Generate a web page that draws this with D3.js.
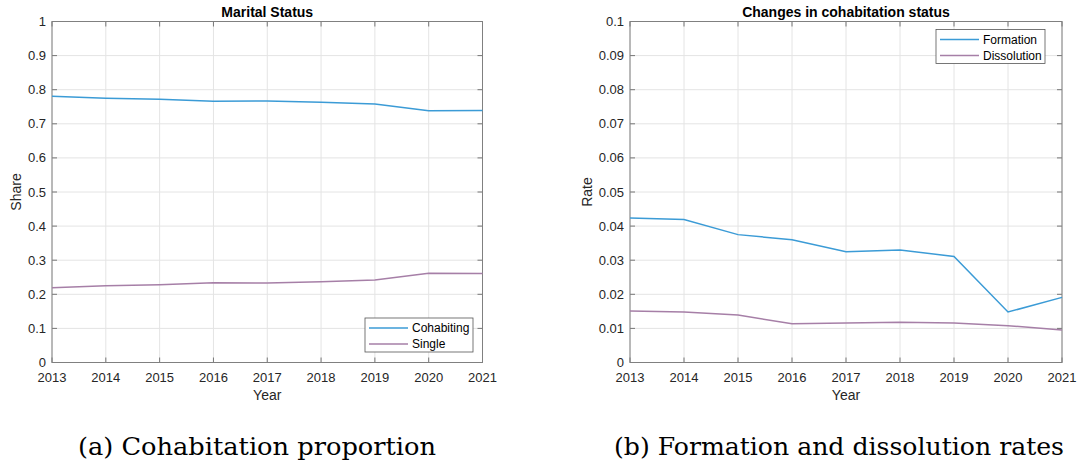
<!DOCTYPE html>
<html>
<head>
<meta charset="utf-8">
<script src="https://cdn.jsdelivr.net/npm/d3@7"></script>
<style>
  body { margin: 0; background: #fff; }
  svg { display: block; }
</style>
</head>
<body>
<div id="chart"></div>
<script>
// data
const years = [2013, 2014, 2015, 2016, 2017, 2018, 2019, 2020, 2021];
const cohabiting = [0.781, 0.775, 0.772, 0.766, 0.767, 0.763, 0.758, 0.738, 0.739];
const single = [0.219, 0.225, 0.228, 0.234, 0.233, 0.237, 0.242, 0.262, 0.261];
const formation = [0.0424, 0.0419, 0.0375, 0.0360, 0.0325, 0.0330, 0.0311, 0.0148, 0.0191];
const dissolution = [0.0151, 0.0148, 0.0139, 0.0114, 0.0116, 0.0118, 0.0116, 0.0108, 0.0095];
const shareTicks = [0, 0.1, 0.2, 0.3, 0.4, 0.5, 0.6, 0.7, 0.8, 0.9, 1];
const rateTicks = [0, 0.01, 0.02, 0.03, 0.04, 0.05, 0.06, 0.07, 0.08, 0.09, 0.1];

const blue = "#3b9bd6";
const purple = "#a67fa7";

const svg = d3.select("#chart").append("svg")
    .attr("width", 1079)
    .attr("height", 465);

const plotTop = 21.5, plotBottom = 362.5;

function panel(opt) {
    const x = d3.scaleLinear().domain([2013, 2021]).range([opt.left, opt.right]);
    const y = d3.scaleLinear().domain([0, opt.ymax]).range([plotBottom, plotTop]);
    const g = svg.append("g");

    // grid
    g.selectAll(".vgrid").data(years).enter().append("line")
        .attr("x1", d => x(d)).attr("x2", d => x(d))
        .attr("y1", plotTop).attr("y2", plotBottom)
        .attr("stroke", "#e4e4e4").attr("stroke-width", 1);
    g.selectAll(".hgrid").data(opt.ticks).enter().append("line")
        .attr("x1", opt.left).attr("x2", opt.right)
        .attr("y1", d => y(d)).attr("y2", d => y(d))
        .attr("stroke", "#e4e4e4").attr("stroke-width", 1);

    // inward ticks on all four sides
    const tk = 5;
    years.forEach(d => {
        g.append("line").attr("x1", x(d)).attr("x2", x(d)).attr("y1", plotBottom).attr("y2", plotBottom - tk)
            .attr("stroke", "#777");
        g.append("line").attr("x1", x(d)).attr("x2", x(d)).attr("y1", plotTop).attr("y2", plotTop + tk)
            .attr("stroke", "#777");
    });
    opt.ticks.forEach(d => {
        g.append("line").attr("x1", opt.left).attr("x2", opt.left + tk).attr("y1", y(d)).attr("y2", y(d))
            .attr("stroke", "#777");
        g.append("line").attr("x1", opt.right).attr("x2", opt.right - tk).attr("y1", y(d)).attr("y2", y(d))
            .attr("stroke", "#777");
    });

    // box
    g.append("rect")
        .attr("x", opt.left).attr("y", plotTop)
        .attr("width", opt.right - opt.left).attr("height", plotBottom - plotTop)
        .attr("fill", "none").attr("stroke", "#808080").attr("stroke-width", 1);

    // tick labels
    g.selectAll(".xl").data(years).enter().append("text")
        .attr("x", d => x(d)).attr("y", 381.5)
        .attr("text-anchor", "middle")
        .attr("font-family", "Liberation Sans, Arial, sans-serif")
        .attr("font-size", "13px").attr("fill", "#262626")
        .text(d => d);
    g.selectAll(".yl").data(opt.ticks).enter().append("text")
        .attr("x", opt.left - 6).attr("y", d => y(d))
        .attr("dy", "0.35em")
        .attr("text-anchor", "end")
        .attr("font-family", "Liberation Sans, Arial, sans-serif")
        .attr("font-size", "13px").attr("fill", "#262626")
        .text(d => d3.format("")(d));

    // lines
    const line = d3.line().x((d, i) => x(years[i])).y(d => y(d));
    opt.series.forEach(s => {
        g.append("path").datum(s.values)
            .attr("d", line)
            .attr("fill", "none")
            .attr("stroke", s.color)
            .attr("stroke-width", 1.5);
    });

    // title and axis labels
    g.append("text")
        .attr("x", (opt.left + opt.right) / 2).attr("y", 16.5)
        .attr("text-anchor", "middle")
        .attr("font-family", "Liberation Sans, Arial, sans-serif")
        .attr("font-size", "14px").attr("font-weight", "bold").attr("fill", "#000")
        .text(opt.title);
    g.append("text")
        .attr("x", (opt.left + opt.right) / 2).attr("y", 400)
        .attr("text-anchor", "middle")
        .attr("font-family", "Liberation Sans, Arial, sans-serif")
        .attr("font-size", "14px").attr("fill", "#262626")
        .text("Year");
    g.append("text")
        .attr("transform", `translate(${opt.ylabelX},${(plotTop + plotBottom) / 2}) rotate(-90)`)
        .attr("text-anchor", "middle")
        .attr("font-family", "Liberation Sans, Arial, sans-serif")
        .attr("font-size", "14px").attr("fill", "#262626")
        .text(opt.ylabel);

    // legend
    const L = opt.legend;
    const lg = g.append("g");
    lg.append("rect")
        .attr("x", L.x).attr("y", L.y)
        .attr("width", L.w).attr("height", L.h)
        .attr("fill", "#fff").attr("stroke", "#555").attr("stroke-width", 0.8);
    opt.series.forEach((s, i) => {
        const cy = L.y + 10 + i * 16;
        lg.append("line")
            .attr("x1", L.x + 4).attr("x2", L.x + 43)
            .attr("y1", cy).attr("y2", cy)
            .attr("stroke", s.color).attr("stroke-width", 1.5);
        lg.append("text")
            .attr("x", L.x + 47).attr("y", cy).attr("dy", "0.35em")
            .attr("font-family", "Liberation Sans, Arial, sans-serif")
            .attr("font-size", "12px").attr("fill", "#000")
            .text(s.name);
    });

    // caption
    svg.append("text")
        .attr("x", opt.capX).attr("y", 455)
        .attr("font-family", "'DejaVu Serif', serif")
        .attr("font-size", "24px").attr("fill", "#000")
        .attr("textLength", opt.capW).attr("lengthAdjust", "spacingAndGlyphs")
        .text(opt.caption);
}

panel({
    left: 52, right: 482.5, ymax: 1, ticks: shareTicks,
    title: "Marital Status", ylabel: "Share", ylabelX: 21,
    series: [
        { name: "Cohabiting", values: cohabiting, color: blue },
        { name: "Single", values: single, color: purple }
    ],
    legend: { x: 365, y: 318, w: 108, h: 34 },
    caption: "(a) Cohabitation proportion", capX: 78, capW: 358
});

panel({
    left: 630, right: 1062, ymax: 0.1, ticks: rateTicks,
    title: "Changes in cohabitation status", ylabel: "Rate", ylabelX: 592,
    series: [
        { name: "Formation", values: formation, color: blue },
        { name: "Dissolution", values: dissolution, color: purple }
    ],
    legend: { x: 936, y: 29.5, w: 109, h: 34 },
    caption: "(b) Formation and dissolution rates", capX: 614, capW: 450
});
</script>
</body>
</html>
